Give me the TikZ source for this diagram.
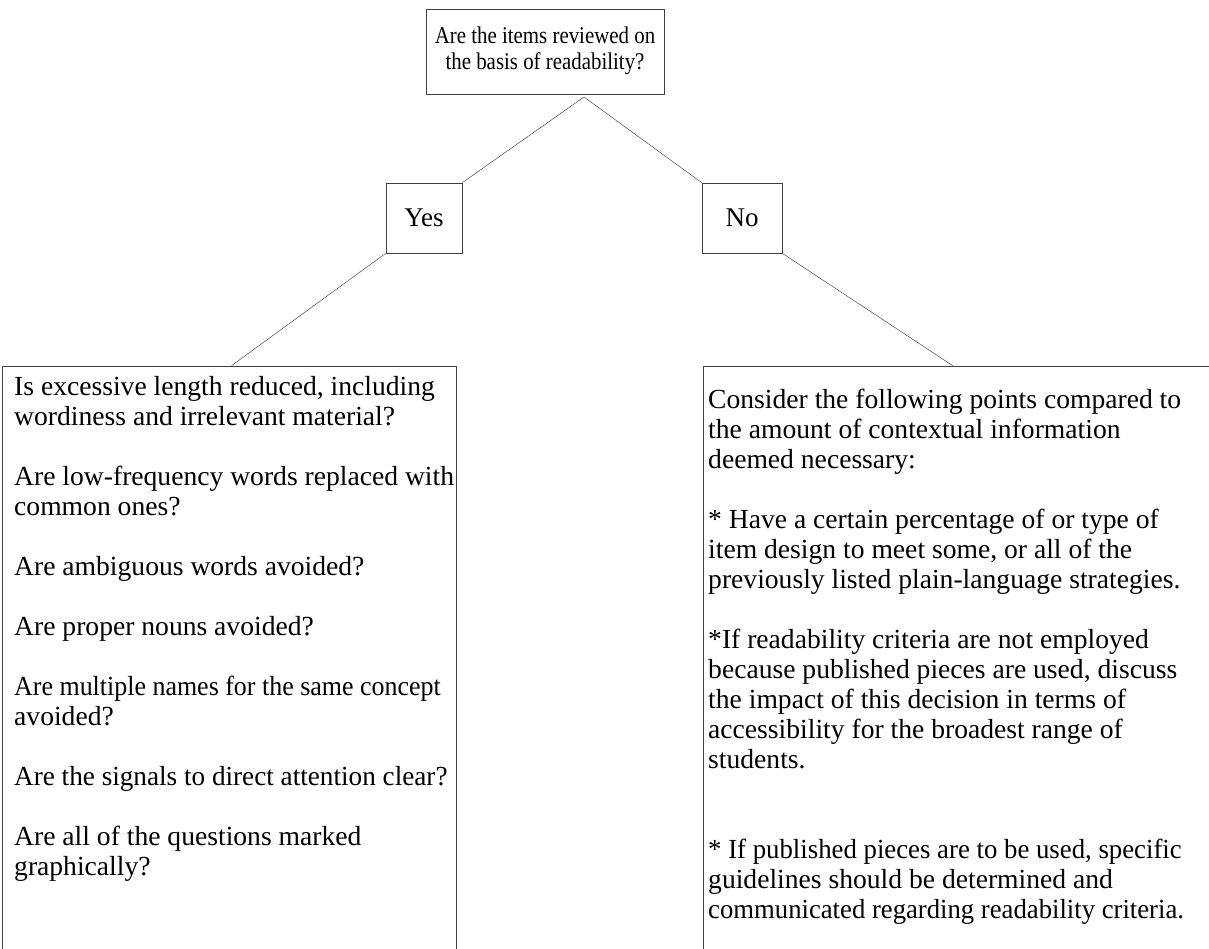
\documentclass[tikz,border=0pt]{standalone}
\usepackage{fontspec}
\setmainfont{Liberation Serif}
\newcommand{\narrowline}[2]{\scalebox{#1}[1]{#2}}
\begin{document}
\begin{tikzpicture}[x=1pt,y=-1pt,
  box/.style={draw=black!75, line width=0.8pt, inner sep=0pt, fill=none},
  link/.style={draw=black!70, line width=0.5pt},
  txt/.style={anchor=base west, inner sep=0pt, font=\fontsize{27.6}{30}\selectfont}]
\useasboundingbox (0,0) rectangle (1209,949);
\begin{scope}
\clip (0,0) rectangle (1209,949);
% boxes
\node[box, minimum width=238pt, minimum height=85pt,
      font=\fontsize{24}{26}\selectfont] (top) at (545,51.5)
  {\scalebox{0.87}[1]{\begin{tabular}{@{}c@{}}Are the items reviewed on\\the basis of readability?\end{tabular}}};
\node[box, minimum width=76pt, minimum height=70pt, font=\fontsize{27}{30}\selectfont] (yes) at (424,218) {Yes};
\node[box, minimum width=80pt, minimum height=70pt, font=\fontsize{27}{30}\selectfont] (no) at (742,218) {No};
\node[box, minimum width=454pt, minimum height=700pt] (left) at (229,716) {};
\node[box, minimum width=597pt, minimum height=700pt] (right) at (1001.5,716) {};
% connectors
\coordinate (apex) at (584,97);
\draw[link] (apex) -- (yes.north east);
\draw[link] (apex) -- (no.north west);
\draw[link] (yes.south west) -- ([xshift=230pt]left.north west);
\draw[link] (no.south east) -- ([xshift=250pt]right.north west);
% texts
\node[txt] (lefttext) at (14,395) {\parbox[t]{600pt}{\raggedright
Is excessive length reduced, including\\
wordiness and irrelevant material?\\[30pt]
Are low-frequency words replaced with\\
common ones?\\[30pt]
Are ambiguous words avoided?\\[30pt]
Are proper nouns avoided?\\[30pt]
\narrowline{0.94}{Are multiple names for the same concept}\\
avoided?\\[30pt]
\narrowline{0.985}{Are the signals to direct attention clear?}\\[30pt]
Are all of the questions marked\\
graphically?}};
\node[txt] (righttext) at (708,408) {\parbox[t]{600pt}{\raggedright
Consider the following points compared to\\
the amount of contextual information\\
deemed necessary:\\[30pt]
* Have a certain percentage of or type of\\
item design to meet some, or all of the\\
previously listed plain-language strategies.\\[30pt]
*If readability criteria are not employed\\
because published pieces are used, discuss\\
the impact of this decision in terms of\\
accessibility for the broadest range of\\
students.\\[60pt]
\narrowline{0.97}{* If published pieces are to be used, specific}\\
guidelines should be determined and\\
\narrowline{0.967}{communicated regarding readability criteria.}}};
\end{scope}
\end{tikzpicture}
\end{document}
